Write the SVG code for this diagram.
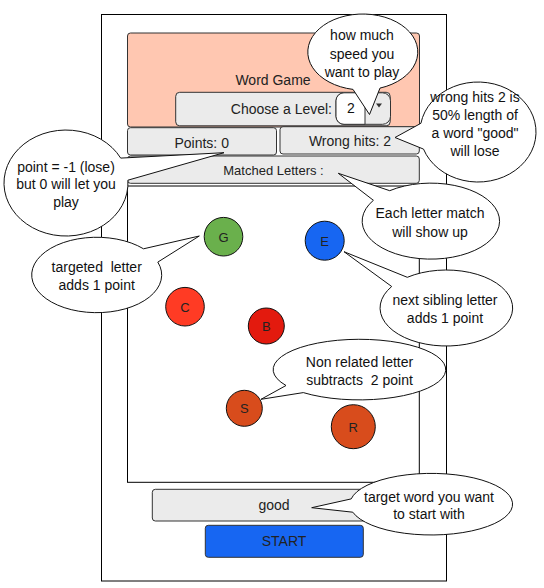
<svg xmlns="http://www.w3.org/2000/svg" width="544" height="588" viewBox="0 0 544 588">
<style>
text{font-family:"Liberation Sans",Arial,sans-serif;font-size:14px;text-anchor:middle}
.box{fill:#EBEBEB;stroke:#333;stroke-width:1}
.lbl{fill:#222}
.bub{fill:#fff;stroke:#111;stroke-width:1}
.bt{fill:#111}
.ltr{stroke:#111;stroke-width:1}
.lt{fill:#222;font-size:13px}
</style>
<rect width="544" height="588" fill="#fff"/>
<g id="frame"><rect x="101.5" y="14.5" width="345" height="566.5" fill="#fff" stroke="#000"/></g>
<g id="header">
<rect x="127.5" y="33" width="292" height="94" rx="3" fill="#FFC7B1" stroke="#333"/>
<text x="273" y="85" class="lbl">Word Game</text>
</g>
<g id="level">
<rect x="175.7" y="92.3" width="214.5" height="33.5" rx="4" class="box"/>
<text x="332" y="114" class="lbl" style="text-anchor:end">Choose a Level:</text>
<rect x="336" y="92.8" width="54.5" height="31.5" rx="8" fill="#EBEBEB" stroke="#333"/>
<path d="M365 92.8 H344 A8 8 0 0 0 336 100.8 V116.3 A8 8 0 0 0 344 124.3 H365 Z" fill="#fff" stroke="#333"/>
<text x="347" y="113" fill="#111" style="text-anchor:start">2</text>
<path d="M376 103.5 L382 103.5 L379 107.5 Z" fill="#333"/>
</g>
<g id="points">
<rect x="127.5" y="127.7" width="149" height="27.3" rx="3" class="box"/>
<text x="201.7" y="148" class="lbl">Points: 0</text>
</g>
<g id="wronghits">
<rect x="280" y="126.7" width="139.3" height="27.3" rx="3" class="box"/>
<text x="350" y="146" class="lbl">Wrong hits: 2</text>
</g>
<g id="matched">
<rect x="127.5" y="156" width="291.8" height="27.3" rx="3" class="box"/>
<text x="273.5" y="175" class="lbl" style="font-size:13px">Matched Letters :</text>
</g>
<g id="gamearea"><rect x="127.5" y="186" width="291.8" height="296.3" fill="#fff" stroke="#000"/></g>
<g id="letterG"><circle cx="223.5" cy="236.7" r="19.3" fill="#6AB04C" class="ltr"/><text x="223.5" y="241.5" class="lt">G</text></g>
<g id="letterE"><circle cx="324.7" cy="240.7" r="19.5" fill="#1766F2" class="ltr"/><text x="324.7" y="245.5" class="lt">E</text></g>
<g id="letterC"><circle cx="185" cy="306.7" r="19.3" fill="#FF3B24" class="ltr"/><text x="185" y="311.5" class="lt">C</text></g>
<g id="letterB"><circle cx="266.3" cy="326" r="18" fill="#E31A0E" class="ltr"/><text x="266.3" y="331" class="lt">B</text></g>
<g id="letterS"><circle cx="244.3" cy="408.3" r="18" fill="#D84C1C" class="ltr"/><text x="244.3" y="413" class="lt">S</text></g>
<g id="letterR"><circle cx="353.3" cy="426.7" r="22" fill="#D84C1C" class="ltr"/><text x="353.3" y="431.5" class="lt">R</text></g>
<g id="good">
<rect x="152.3" y="489.3" width="243" height="31.7" rx="3" class="box"/>
<text x="274" y="510" class="lbl">good</text>
</g>
<g id="start">
<rect x="205.3" y="525.3" width="158" height="32" rx="3" fill="#1766F2" stroke="#333"/>
<text x="284" y="546" class="lbl">START</text>
</g>
<g id="connectors">
<g id="callout-speed">
<path d="M353 89.4 L369.5 114.5 L380 88.1 A55 38 0 1 0 353 89.4 Z" class="bub"/>
<text x="362" y="40" class="bt">how much</text>
<text x="362" y="58.5" class="bt">speed you</text>
<text x="362" y="77" class="bt">want to play</text>
</g>
<g id="callout-wrong">
<path d="M420.9 123.3 L395 137.5 L423.5 149.1 A58 50 0 1 0 420.9 123.3 Z" class="bub"/>
<text x="475" y="102" class="bt">wrong hits 2 is</text>
<text x="475" y="120" class="bt">50% length of</text>
<text x="475" y="138" class="bt">a word "good"</text>
<text x="475" y="156" class="bt">will lose</text>
</g>
<g id="callout-point">
<path d="M120.7 158.1 L224 152.7 L127.9 180.2 A62 53 0 1 1 120.7 158.1 Z" class="bub"/>
<text x="66" y="171.5" class="bt">point = -1 (lose)</text>
<text x="66" y="189" class="bt">but 0 will let you</text>
<text x="66" y="207" class="bt">play</text>
</g>
<g id="callout-targeted">
<path d="M143.5 248.8 L199.3 236 L157.8 262.1 A65 37.7 0 1 1 143.5 248.8 Z" class="bub"/>
<text x="96.7" y="272" class="bt" xml:space="preserve">targeted  letter</text>
<text x="96.7" y="290" class="bt">adds 1 point</text>
</g>
<g id="callout-match">
<path d="M373.4 200.3 L338.3 173.3 L389.7 190.7 A68.7 38 0 1 1 373.4 200.3 Z" class="bub"/>
<text x="430" y="218" class="bt">Each letter match</text>
<text x="430" y="236.5" class="bt">will show up</text>
</g>
<g id="callout-sibling">
<path d="M391.7 286.5 L344 251.7 L407.3 277.3 A66.3 38 0 1 1 391.7 286.5 Z" class="bub"/>
<text x="445" y="305" class="bt">next sibling letter</text>
<text x="445" y="323" class="bt">adds 1 point</text>
</g>
<g id="callout-nonrelated">
<path d="M286 385.5 L261 399.3 L303.3 392.6 A86.3 30.3 0 1 0 286 385.5 Z" class="bub"/>
<text x="359.5" y="366.5" class="bt">Non related letter</text>
<text x="359.5" y="385" class="bt" xml:space="preserve">subtracts  2 point</text>
</g>
<g id="callout-target">
<path d="M351.2 498.9 L311.7 507.7 L352.8 512.2 A81.3 30.8 0 1 0 351.2 498.9 Z" class="bub"/>
<text x="429" y="501.5" class="bt">target word you want</text>
<text x="429" y="519" class="bt">to start with</text>
</g>
</g>
</svg>
